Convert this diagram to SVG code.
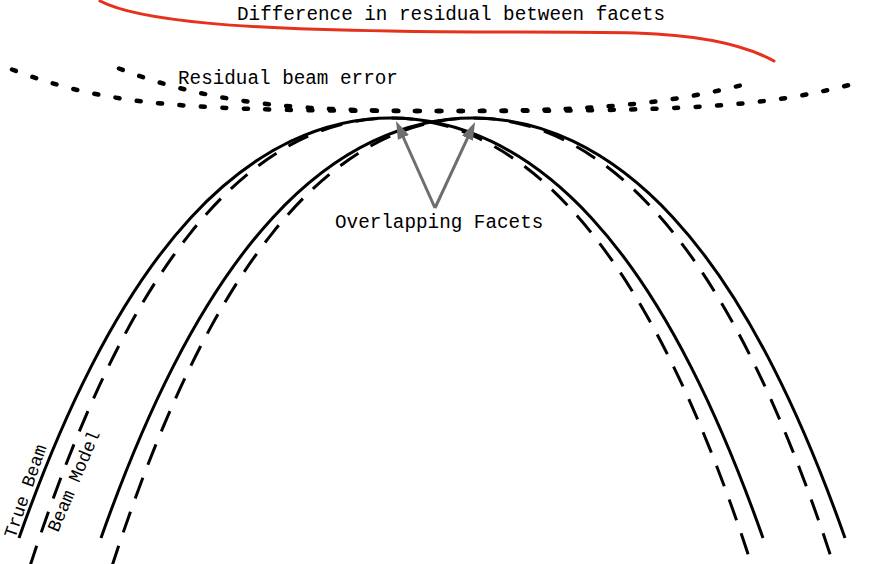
<svg xmlns="http://www.w3.org/2000/svg" xmlns:xlink="http://www.w3.org/1999/xlink" width="869" height="564" viewBox="0 0 869 564">
  <style>
    .txt { font-family: "Liberation Mono", "Courier New", monospace; font-size: 19.3px; fill: #000; }
    .side { font-size: 18px; }
    .solid { fill: none; stroke: #000; stroke-width: 3; }
    .dashed { fill: none; stroke: #000; stroke-width: 3; stroke-dasharray: 22 14; }
    .dotted { fill: none; stroke: #000; stroke-width: 4.5; stroke-linecap: round; stroke-dasharray: 4 17.5; }
    .diff { fill: none; stroke: #e5321d; stroke-width: 3; stroke-linecap: round; }
    .arrow { fill: none; stroke: #6e6e6e; stroke-width: 3; marker-end: url(#head); }
  </style>
  <defs>
    <marker id="head" viewBox="0 0 18 12" refX="12" refY="6" markerWidth="18" markerHeight="12" markerUnits="userSpaceOnUse" orient="auto">
      <path d="M0,0 L18,6 L0,12 z" fill="#6e6e6e"/>
    </marker>
    <path id="trueBeam" d="M-372,420 C-348,352 -324,295.88 -300,248.83 C-266.67,183.48 -233.33,135.54 -200,99.42 C-166.67,63.3 -133.33,39 -100,23.18 C-66.67,7.36 -33.33,0 0,0 C33.33,0 66.67,7.36 100,23.18 C133.33,39 166.67,63.3 200,99.42 C233.33,135.54 266.67,183.48 300,248.83 C324,295.88 348,352 372,420"/>
    <path id="beamModel" d="M-372,483 C-348,404.8 -324,340.26 -300,286.15 C-266.67,211 -233.33,155.87 -200,114.33 C-166.67,72.8 -133.33,44.85 -100,26.66 C-66.67,8.46 -33.33,0 0,0 C33.33,0 66.67,8.46 100,26.66 C133.33,44.85 166.67,72.8 200,114.33 C233.33,155.87 266.67,211 300,286.15 C324,340.26 348,404.8 372,483"/>
  </defs>

  <g id="facet1">
    <use xlink:href="#beamModel" href="#beamModel" class="dashed" transform="translate(391,118)"/>
    <use xlink:href="#trueBeam" href="#trueBeam" class="solid" transform="translate(391,118)"/>
  </g>
  <g id="facet2">
    <use xlink:href="#beamModel" href="#beamModel" class="dashed" transform="translate(473,118)"/>
    <use xlink:href="#trueBeam" href="#trueBeam" class="solid" transform="translate(473,118)"/>
  </g>

  <g id="residual">
    <path class="dotted" d="M12,69.5 C108.5,106.2 185,111 440,111 C686.6,111 760.6,107.9 853,84"/>
    <path class="dotted" d="M119,68.5 C217.4,106.9 312.8,111 440,111 C561.6,111 652.8,108.4 746,84"/>
    <text class="txt" x="178" y="84">Residual beam error</text>
  </g>

  <g id="difference">
    <path class="diff" d="M100,1 C140,22 250,29 390,31 C480,33 560,31 636,33 C700,35 745,45 774,61"/>
    <text class="txt" x="237" y="20">Difference in residual between facets</text>
  </g>

  <g id="labels">
    <text class="txt side" transform="translate(15,539) rotate(-71)">True Beam</text>
    <text class="txt side" transform="translate(58,533) rotate(-67)">Beam Model</text>
  </g>

  <g id="connectors">
    <path class="arrow" d="M435,208 L398.5,126.5"/>
    <path class="arrow" d="M435,208 L472.5,127.4"/>
  </g>
  <g id="overlap-label">
    <text class="txt" x="335" y="228">Overlapping Facets</text>
  </g>
</svg>
